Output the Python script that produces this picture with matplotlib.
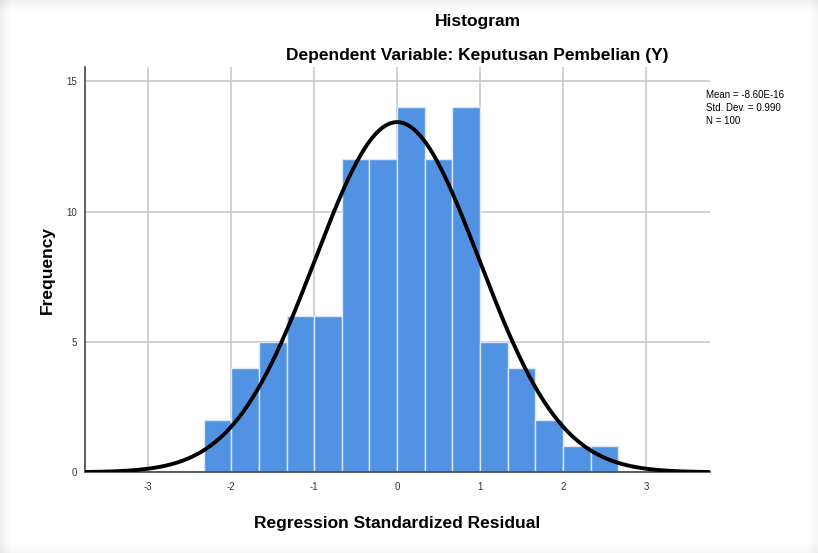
import numpy as np
import matplotlib.pyplot as plt
from matplotlib.patches import Rectangle

# histogram data
bin_left = -2.333
bin_width = 1 / 3
counts = [2, 4, 5, 6, 6, 12, 12, 14, 12, 14, 5, 4, 2, 1, 1]
mean = -8.60e-16
std = 0.990
n = 100

x_ticks = [-3, -2, -1, 0, 1, 2, 3]
y_ticks = [0, 5, 10, 15]

plt.rcParams["font.family"] = ["Liberation Sans", "DejaVu Sans"]

fig = plt.figure(figsize=(8.18, 5.53), dpi=100)

# soft shadow frame like the screenshot
for i in range(10):
    a = 0.06 * (10 - i) / 10
    fig.patches.append(Rectangle((i / 818, 0), 1 / 818, 1, transform=fig.transFigure,
                                 color="black", alpha=a, lw=0))
    fig.patches.append(Rectangle((0, 1 - (i + 1) / 553), 1, 1 / 553, transform=fig.transFigure,
                                 color="black", alpha=a, lw=0))
    fig.patches.append(Rectangle((1 - (i + 1) / 818, 0), 1 / 818, 1, transform=fig.transFigure,
                                 color="black", alpha=a * 0.6, lw=0))
    fig.patches.append(Rectangle((0, i / 553), 1, 1 / 553, transform=fig.transFigure,
                                 color="black", alpha=a * 0.6, lw=0))

ax = fig.add_axes([0.104, 0.146, 0.764, 0.733])

edges = bin_left + bin_width * np.arange(len(counts))
ax.bar(edges, counts, width=bin_width, align="edge", color="#5193e2",
       edgecolor="#d8e6f6", linewidth=1.0, zorder=2)

xs = np.linspace(-3.76, 3.76, 400)
pdf = n * bin_width / (std * np.sqrt(2 * np.pi)) * np.exp(-0.5 * ((xs - mean) / std) ** 2)
ax.plot(xs, pdf, color="black", lw=2.8, zorder=3, solid_capstyle="round")

ax.set_xlim(-3.76, 3.77)
ax.set_ylim(0, 15.55)
ax.set_xticks(x_ticks)
ax.set_yticks(y_ticks)
ax.set_xticklabels([str(t) for t in x_ticks])
ax.grid(True, color="#c8c8c8", lw=1.2, zorder=0)
ax.set_axisbelow(True)
ax.tick_params(length=0, labelsize=7, colors="#333333", pad=7)
ax.tick_params(axis="y", pad=6)

for s in ["top", "right"]:
    ax.spines[s].set_visible(False)
ax.spines["left"].set_color("#444444")
ax.spines["bottom"].set_color("#444444")
ax.spines["left"].set_linewidth(1.2)
ax.spines["bottom"].set_linewidth(1.2)

ax.set_xlabel("Regression Standardized Residual", fontsize=12.5, fontweight="bold", labelpad=17)
ax.set_ylabel("Frequency", fontsize=12.5, fontweight="bold", labelpad=8)

fig.text(0.584, 0.962, "Histogram", ha="center", va="center", fontsize=12.5, fontweight="bold")
fig.text(0.584, 0.899, "Dependent Variable: Keputusan Pembelian (Y)", ha="center", va="center",
         fontsize=12.5, fontweight="bold")
fig.text(0.863, 0.805, "Mean = -8.60E-16\nStd. Dev. = 0.990\nN = 100", ha="left", va="center",
         fontsize=7, linespacing=1.35)

fig.savefig("out.png", dpi=100)
